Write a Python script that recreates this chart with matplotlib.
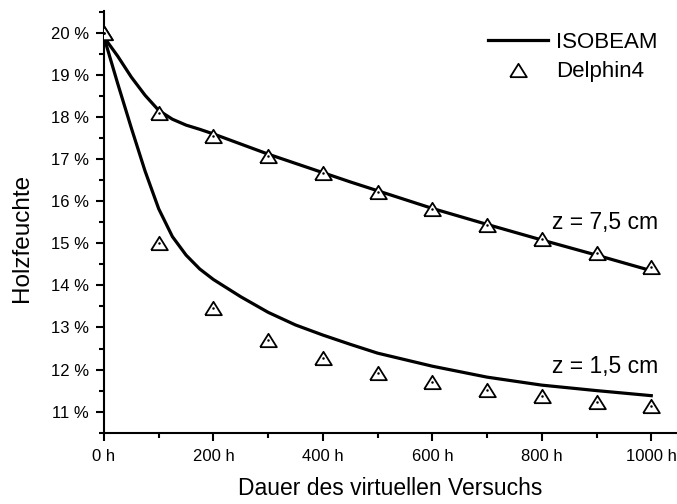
import matplotlib
matplotlib.use("Agg")
import matplotlib.pyplot as plt
from matplotlib.ticker import MultipleLocator, FuncFormatter

plt.rcParams['font.family'] = ['Liberation Sans', 'DejaVu Sans']

# ISOBEAM simulation (lines)
iso_hours = [0, 25, 50, 75, 100, 125, 150, 175, 200, 250, 300, 350, 400, 450,
             500, 600, 700, 800, 900, 1000]
iso_75 = [19.9, 19.45, 18.95, 18.52, 18.16, 17.95, 17.81, 17.71, 17.6, 17.36,
          17.12, 16.9, 16.68, 16.46, 16.25, 15.83, 15.45, 15.08, 14.72, 14.35]
iso_15 = [19.9, 18.8, 17.74, 16.72, 15.82, 15.16, 14.72, 14.39, 14.14, 13.73,
          13.36, 13.06, 12.82, 12.6, 12.39, 12.08, 11.82, 11.63, 11.5, 11.38]

# Delphin4 simulation (markers)
del_hours = [0, 100, 200, 300, 400, 500, 600, 700, 800, 900, 1000]
del_75 = [20.0, 18.09, 17.54, 17.08, 16.66, 16.23, 15.82, 15.44, 15.1, 14.76, 14.43]
del_15 = [20.0, 15.0, 13.46, 12.7, 12.27, 11.93, 11.7, 11.52, 11.37, 11.24, 11.13]

fig = plt.figure(figsize=(6.77, 5.04), dpi=100)
ax = fig.add_axes([0.1536, 0.1415, 0.8464, 0.8365])

tri = [(-1, -0.8), (1, -0.8), (0, 0.8), (-1, -0.8)]

ax.plot(iso_hours, iso_75, color='black', lw=2.3, label='ISOBEAM', zorder=2)
ax.plot(iso_hours, iso_15, color='black', lw=2.3, zorder=2)
ax.plot(del_hours, del_75, ls='none', marker=tri, ms=12, mfc='white',
        mec='black', mew=1.3, label='Delphin4', zorder=3)
ax.plot(del_hours, del_15, ls='none', marker=tri, ms=12, mfc='white',
        mec='black', mew=1.3, zorder=3)
# small centre dots of the symbols
ax.plot(del_hours + del_hours, del_75 + del_15, ls='none', marker='o', ms=0.8,
        color='black', zorder=4)

ax.set_xlim(0, 1047)
ax.set_ylim(10.5, 20.52)
ax.spines['top'].set_visible(False)
ax.spines['right'].set_visible(False)
for s in ('left', 'bottom'):
    ax.spines[s].set_linewidth(1.5)

ax.xaxis.set_major_locator(MultipleLocator(200))
ax.xaxis.set_minor_locator(MultipleLocator(100))
ax.yaxis.set_major_locator(MultipleLocator(1))
ax.yaxis.set_minor_locator(MultipleLocator(0.5))
ax.xaxis.set_major_formatter(FuncFormatter(lambda v, p: f"{v:.0f} h"))
ax.yaxis.set_major_formatter(FuncFormatter(lambda v, p: f"{v:.0f} %"))
ax.tick_params(which='major', direction='out', length=6, width=1.5, labelsize=12)
ax.tick_params(which='minor', direction='out', length=3.5, width=1.5)
ax.tick_params(axis='x', pad=6)
ax.tick_params(axis='y', pad=5)

ax.set_xlabel('Dauer des virtuellen Versuchs', fontsize=16.5, labelpad=9)
fig.text(22 / 677, 1 - 238 / 504, 'Holzfeuchte', fontsize=17.5, rotation=90,
         ha='center', va='center')

ax.text(819, 15.5, 'z = 7,5 cm', fontsize=16.5, va='center', ha='left')
ax.text(819, 12.07, 'z = 1,5 cm', fontsize=16.5, va='center', ha='left')

ax.legend(loc='upper left', bbox_to_anchor=(488 / 677, 1 - 32 / 504),
          bbox_transform=fig.transFigure, frameon=False, fontsize=16,
          handlelength=2.7, handletextpad=0.36, labelspacing=0.38,
          borderpad=0, borderaxespad=0)

fig.savefig('out.png', dpi=100)
